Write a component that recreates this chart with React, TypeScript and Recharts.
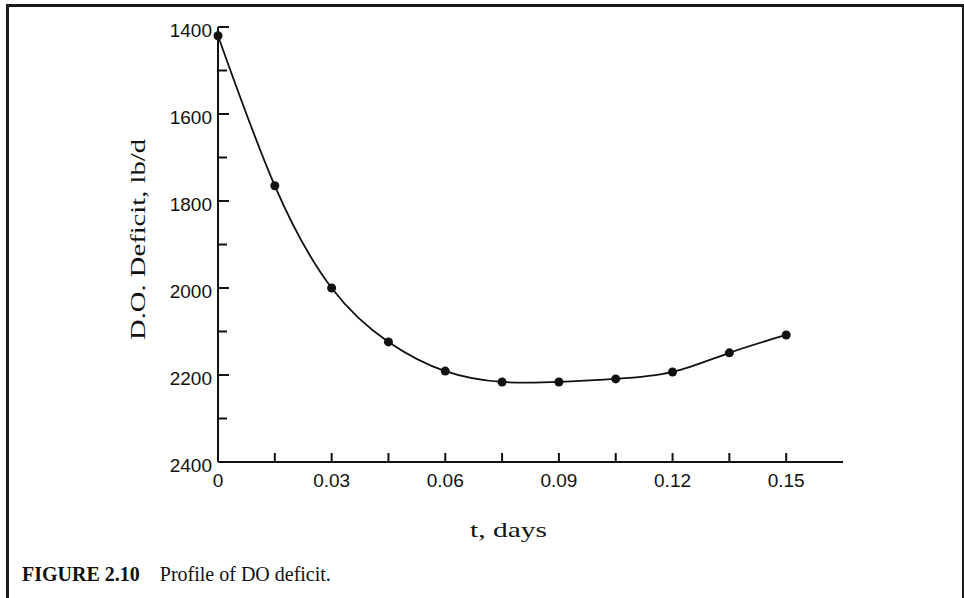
import { LineChart, Line, XAxis, YAxis, Label } from 'recharts'

// t, days
const times = [0, 0.015, 0.03, 0.045, 0.06, 0.075, 0.09, 0.105, 0.12, 0.135, 0.15]
// D.O. deficit, lb/d
const deficits = [1420, 1765, 2000, 2124, 2191, 2216, 2216, 2209, 2193, 2149, 2108]

const xTicks = [0, 0.015, 0.03, 0.045, 0.06, 0.075, 0.09, 0.105, 0.12, 0.135, 0.15]
const xLabels = ['0', '', '0.03', '', '0.06', '', '0.09', '', '0.12', '', '0.15']
const yTicks = [1400, 1500, 1600, 1700, 1800, 1900, 2000, 2100, 2200, 2300, 2400]

const data = times.map((t, i) => ({ t, deficit: deficits[i] }))

const tickFont = '"Liberation Sans", Arial, sans-serif'
const serif = '"Liberation Serif", "Times New Roman", serif'

function XTick(props: any) {
  const { x, y, index } = props
  const label = xLabels[index]
  return (
    <g>
      <line x1={x} y1={y} x2={x} y2={y - 9} stroke="#111" strokeWidth={2} />
      {label && (
        <text x={x} y={y + 25} textAnchor="middle" fontFamily={tickFont} fontSize={19} fill="#111">
          {label}
        </text>
      )}
    </g>
  )
}

function YTick(props: any) {
  const { x, y, payload } = props
  const major = payload.value % 200 === 0
  return (
    <g>
      <line x1={x} y1={y} x2={x + (major ? 11 : 9)} y2={y} stroke="#111" strokeWidth={2} />
      {major && (
        <text x={x - 6} y={y + 10} textAnchor="end" fontFamily={tickFont} fontSize={19} fill="#111">
          {payload.value}
        </text>
      )}
    </g>
  )
}

export default function App() {
  return (
    <div style={{ position: 'absolute', left: 0, top: 0, width: 964, height: 598, background: '#fff', overflow: 'hidden' }}>
      <div
        style={{
          position: 'absolute',
          left: 6,
          top: 4,
          width: 953,
          height: 600,
          borderTop: '3px solid #1a1a1a',
          borderLeft: '3px solid #1a1a1a',
          borderRight: '2px solid #1a1a1a',
        }}
      />
      <LineChart
        width={964}
        height={598}
        data={data}
        margin={{ top: 27, right: 121, bottom: 106, left: 158 }}
        style={{ position: 'absolute', left: 0, top: 0 }}
      >
        <XAxis
          type="number"
          dataKey="t"
          domain={[0, 0.165]}
          ticks={xTicks}
          interval={0}
          height={30}
          stroke="#111"
          strokeWidth={2}
          tickLine={false}
          tickSize={0}
          tickMargin={0}
          tick={<XTick />}
        >
          <Label
            content={(p: any) => {
              const vb = p.viewBox || { x: 218, y: 462, width: 625 }
              return (
                <text
                  x={vb.x + vb.width / 2 - 22}
                  y={vb.y + 75}
                  textAnchor="middle"
                  fontFamily={serif}
                  fontSize={22}
                  textLength={77}
                  lengthAdjust="spacingAndGlyphs"
                  fill="#111"
                >
                  t, days
                </text>
              )
            }}
          />
        </XAxis>
        <YAxis
          type="number"
          dataKey="deficit"
          reversed
          domain={[1400, 2400]}
          ticks={yTicks}
          interval={0}
          width={60}
          stroke="#111"
          strokeWidth={2}
          tickLine={false}
          tickSize={0}
          tickMargin={0}
          tick={<YTick />}
        >
          <Label
            content={(p: any) => {
              const vb = p.viewBox || { x: 158, y: 27, width: 60, height: 435 }
              const cx = vb.x + vb.width - 73
              const cy = vb.y + vb.height / 2 - 5
              return (
                <text
                  x={cx}
                  y={cy}
                  transform={`rotate(-90, ${cx}, ${cy})`}
                  textAnchor="middle"
                  fontFamily={serif}
                  fontSize={20}
                  textLength={201}
                  lengthAdjust="spacingAndGlyphs"
                  fill="#111"
                >
                  D.O. Deficit, lb/d
                </text>
              )
            }}
          />
        </YAxis>
        <Line
          type="natural"
          dataKey="deficit"
          stroke="#111"
          strokeWidth={1.8}
          dot={{ r: 4.5, fill: '#111', stroke: '#111', strokeWidth: 0 }}
          isAnimationActive={false}
        />
      </LineChart>
      <div
        style={{
          position: 'absolute',
          left: 22,
          top: 563,
          fontFamily: serif,
          fontSize: 20,
          color: '#111',
          whiteSpace: 'pre',
        }}
      >
        <b>FIGURE 2.10</b>
        {'    Profile of DO deficit.'}
      </div>
    </div>
  )
}
